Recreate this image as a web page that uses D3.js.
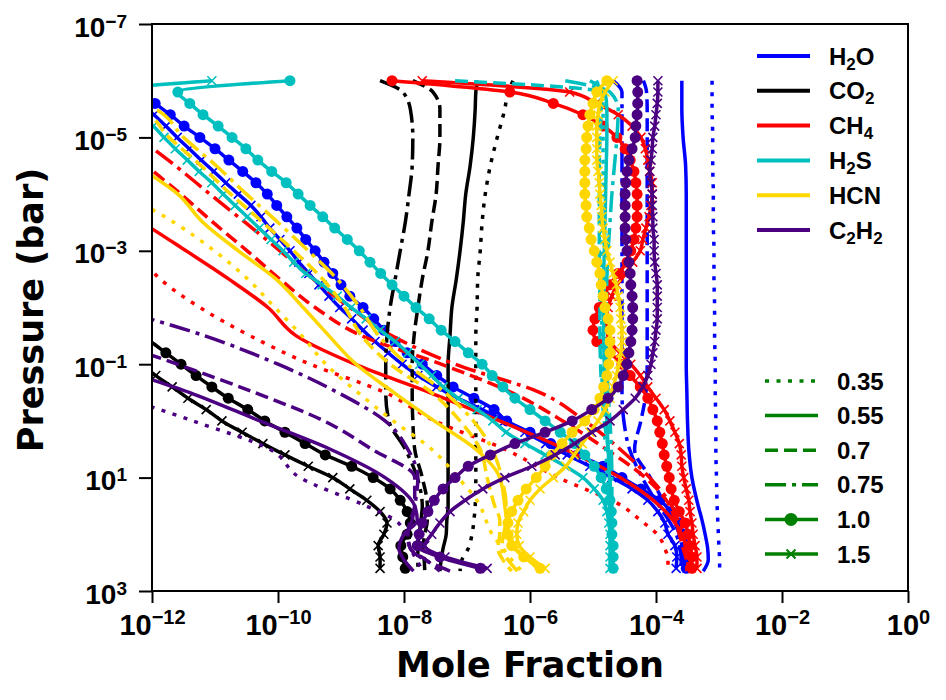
<!DOCTYPE html>
<html>
<head>
<meta charset="utf-8">
<script src="https://cdn.jsdelivr.net/npm/d3@7"></script>
<style>
  body { margin: 0; background: #fff; }
  svg { display: block; }
  text { font-family: "Liberation Sans", Arial, sans-serif; font-weight: bold; fill: #000; }
  .lab { font-family: "DejaVu Sans", sans-serif; font-size: 35px; }
</style>
</head>
<body>
<svg id="chart" width="946" height="700"></svg>
<script>
// log10 pressure (bar): coarse levels for the plain lines, model layers for the marked ones
const logP = [-6, -5.8, -5.5, -5, -4.5, -4, -3.5, -3, -2.5, -2, -1.5, -1, -0.5, 0, 0.5, 1, 1.5, 1.75, 2, 2.25, 2.45, 2.65];
const logPfine = [-6, -5.8, -5.6, -5.4, -5.2, -5, -4.8, -4.6, -4.4, -4.2, -4, -3.8, -3.6, -3.4, -3.2, -3, -2.8, -2.6, -2.4, -2.2,
  -2, -1.8, -1.6, -1.4, -1.2, -1, -0.8, -0.6, -0.4, -0.2, 0, 0.2, 0.4, 0.6, 0.8, 1, 1.2, 1.4, 1.6, 1.8, 2, 2.2, 2.4, 2.6];

const cases = ["0.35", "0.55", "0.7", "0.75", "1.0", "1.5"];
const species = ["H2O", "CO2", "CH4", "H2S", "HCN", "C2H2"];
const speciesColors = ["#0000ff", "#000000", "#ff0000", "#00bfbf", "#ffd700", "#4b0082"];
const speciesLabels = [
  [["H", 0], ["2", 1], ["O", 0]],
  [["CO", 0], ["2", 1]],
  [["CH", 0], ["4", 1]],
  [["H", 0], ["2", 1], ["S", 0]],
  [["HCN", 0]],
  [["C", 0], ["2", 1], ["H", 0], ["2", 1]]
];

// log10 mole fraction; rows = 0.35, 0.55, 0.7, 0.75 (on logP), 1.0, 1.5 (on logPfine)
const H2O = [
  [-3.11,-3.11,-3.11,-3.10,-3.10,-3.09,-3.09,-3.08,-3.08,-3.07,-3.07,-3.06,-3.06,-3.05,-3.05,-3.04,-3.03,-3.02,-3.01,-3.00,-2.99,-2.99],
  [-3.59,-3.59,-3.59,-3.57,-3.53,-3.52,-3.52,-3.52,-3.52,-3.52,-3.52,-3.52,-3.51,-3.50,-3.48,-3.43,-3.33,-3.27,-3.22,-3.18,-3.17,-3.25],
  [-4.20,-4.15,-4.14,-4.14,-4.14,-4.14,-4.14,-4.14,-4.14,-4.14,-4.14,-4.14,-4.16,-4.24,-4.34,-4.09,-3.84,-3.72,-3.63,-3.58,-3.55,-3.57],
  [-4.68,-4.54,-4.54,-4.54,-4.54,-4.54,-4.54,-4.54,-4.54,-4.54,-4.54,-4.54,-4.54,-4.51,-4.42,-4.22,-3.95,-3.80,-3.68,-3.62,-3.60,-3.60],
  [-12.40,-12.17,-11.95,-11.71,-11.49,-11.24,-11.00,-10.78,-10.56,-10.35,-10.17,-10.02,-9.86,-9.70,-9.56,-9.41,-9.27,-9.13,-9.00,-8.86,
   -8.65,-8.48,-8.32,-8.14,-7.95,-7.71,-7.48,-7.22,-6.89,-6.57,-6.37,-6.00,-5.67,-5.25,-4.84,-4.54,-4.24,-3.94,-3.76,-3.63,-3.56,-3.51,-3.51,-3.52],
  [-12.63,-12.40,-12.19,-11.97,-11.78,-11.60,-11.41,-11.22,-11.02,-10.83,-10.63,-10.43,-10.27,-10.13,-9.97,-9.81,-9.67,-9.51,-9.35,-9.19,
   -9.02,-8.83,-8.65,-8.46,-8.25,-8.03,-7.78,-7.48,-7.14,-6.76,-6.40,-6.08,-5.75,-5.41,-5.05,-4.70,-4.38,-4.13,-3.97,-3.86,-3.81,-3.70,-3.67,-3.68]
];
const CO2 = [
  [-6.27,-6.35,-6.40,-6.52,-6.63,-6.71,-6.76,-6.79,-6.83,-6.84,-6.86,-6.86,-6.86,-6.86,-6.86,-6.86,-6.87,-6.89,-6.92,-6.98,-7.08,-7.11],
  [-6.83,-6.86,-6.87,-6.90,-6.95,-7.02,-7.06,-7.11,-7.17,-7.24,-7.27,-7.30,-7.30,-7.30,-7.30,-7.30,-7.30,-7.32,-7.33,-7.38,-7.41,-7.43],
  [-7.86,-7.54,-7.43,-7.43,-7.46,-7.49,-7.56,-7.62,-7.71,-7.78,-7.84,-7.87,-7.87,-7.86,-7.83,-7.71,-7.63,-7.63,-7.67,-7.70,-7.68,-7.67],
  [-8.38,-8.02,-7.90,-7.86,-7.87,-7.92,-7.98,-8.06,-8.14,-8.22,-8.27,-8.29,-8.29,-8.24,-7.98,-7.79,-7.71,-7.73,-7.76,-7.78,-7.78,-7.78],
  [-15.5,-15.4,-15.3,-15.2,-15.1,-15.0,-14.9,-14.8,-14.7,-14.6,-14.5,-14.4,-14.3,-14.2,-14.1,-14.0,-13.8,-13.6,-13.3,-13.0,
   -12.77,-12.52,-12.27,-12.02,-11.78,-11.54,-11.30,-11.05,-10.79,-10.48,-10.21,-9.89,-9.57,-9.25,-8.83,-8.49,-8.22,-8.06,-7.95,-7.90,-7.95,-8.05,-8.02,-7.98],
  [-16.0,-15.9,-15.8,-15.7,-15.6,-15.5,-15.4,-15.3,-15.2,-15.1,-15.0,-14.9,-14.8,-14.7,-14.6,-14.5,-14.3,-14.1,-13.9,-13.7,
   -13.5,-13.3,-13.0,-12.7,-12.40,-12.17,-11.94,-11.68,-11.43,-11.14,-10.89,-10.57,-10.24,-9.89,-9.52,-9.13,-8.86,-8.59,-8.38,-8.27,-8.32,-8.41,-8.38,-8.38]
];
const CH4 = [
  [-16.0,-15.8,-15.5,-15.0,-14.5,-13.8,-13.0,-12.27,-11.87,-11.24,-10.44,-9.49,-8.30,-7.51,-6.40,-5.55,-4.54,-4.25,-3.98,-3.86,-3.81,-3.81],
  [-16.0,-15.6,-15.2,-14.6,-14.0,-12.95,-12.16,-11.46,-10.78,-10.16,-9.71,-8.78,-7.59,-6.48,-5.44,-4.57,-3.94,-3.73,-3.59,-3.51,-3.46,-3.43],
  [-13.5,-13.3,-13.0,-12.55,-12.08,-11.54,-11.03,-10.49,-9.97,-9.41,-8.67,-7.41,-6.29,-5.48,-4.79,-4.17,-3.78,-3.70,-3.63,-3.57,-3.52,-3.51],
  [-13.3,-13.1,-12.8,-12.22,-11.63,-11.08,-10.52,-9.97,-9.44,-8.86,-8.19,-7.19,-5.84,-5.13,-4.57,-4.10,-3.75,-3.65,-3.57,-3.53,-3.50,-3.49],
  [-8.19,-6.32,-5.63,-5.16,-4.84,-4.62,-4.49,-4.41,-4.35,-4.32,-4.30,-4.30,-4.30,-4.32,-4.35,-4.40,-4.46,-4.60,-4.73,-4.83,
   -4.90,-4.97,-5.00,-4.94,-4.73,-4.54,-4.41,-4.25,-4.13,-4.05,-3.98,-3.94,-3.90,-3.87,-3.83,-3.79,-3.76,-3.71,-3.63,-3.54,-3.49,-3.46,-3.43,-3.43],
  [-7.71,-5.37,-4.95,-4.60,-4.38,-4.24,-4.17,-4.13,-4.10,-4.06,-4.06,-4.08,-4.11,-4.16,-4.21,-4.25,-4.37,-4.48,-4.62,-4.70,
   -4.76,-4.79,-4.78,-4.73,-4.57,-4.40,-4.25,-4.13,-4.00,-3.87,-3.78,-3.70,-3.63,-3.60,-3.59,-3.56,-3.52,-3.48,-3.46,-3.43,-3.41,-3.38,-3.35,-3.35]
];
const H2S = [
  [-4.95,-4.86,-4.84,-4.84,-4.84,-4.84,-4.85,-4.86,-4.86,-4.86,-4.86,-4.86,-4.85,-4.83,-4.80,-4.77,-4.74,-4.73,-4.72,-4.72,-4.71,-4.71],
  [-5.05,-4.81,-4.78,-4.78,-4.79,-4.80,-4.81,-4.82,-4.83,-4.83,-4.83,-4.82,-4.80,-4.78,-4.76,-4.74,-4.72,-4.71,-4.71,-4.70,-4.70,-4.70],
  [-7.19,-4.89,-4.87,-4.89,-4.90,-4.90,-4.90,-4.90,-4.89,-4.89,-4.89,-4.88,-4.86,-4.82,-4.76,-4.73,-4.72,-4.71,-4.71,-4.71,-4.70,-4.70],
  [-5.44,-4.73,-4.60,-4.62,-4.66,-4.70,-4.73,-4.76,-4.78,-4.79,-4.79,-4.78,-4.76,-4.73,-4.71,-4.70,-4.70,-4.70,-4.69,-4.69,-4.69,-4.69],
  [-9.81,-11.59,-11.40,-11.19,-10.95,-10.73,-10.51,-10.32,-10.10,-9.87,-9.68,-9.49,-9.29,-9.10,-8.90,-8.71,-8.54,-8.37,-8.19,-8.00,
   -7.81,-7.60,-7.41,-7.19,-6.98,-6.76,-6.60,-6.43,-6.24,-6.00,-5.76,-5.52,-5.29,-5.13,-4.98,-4.87,-4.79,-4.73,-4.71,-4.70,-4.70,-4.68,-4.68,-4.68],
  [-11.05,-12.76,-12.51,-12.19,-11.98,-11.81,-11.63,-11.44,-11.25,-11.05,-10.87,-10.68,-10.49,-10.30,-10.11,-9.92,-9.75,-9.56,-9.30,-9.06,
   -8.84,-8.60,-8.38,-8.14,-7.94,-7.75,-7.56,-7.38,-7.14,-6.84,-6.59,-6.38,-6.08,-5.76,-5.44,-5.16,-4.98,-4.84,-4.78,-4.75,-4.73,-4.73,-4.73,-4.73]
];
const HCN = [
  [-15.0,-14.6,-14.2,-13.7,-13.2,-12.43,-11.65,-11.01,-10.48,-10.05,-9.62,-9.24,-8.73,-8.17,-7.56,-7.14,-6.79,-6.70,-6.60,-6.43,-6.29,-6.13],
  [-14.6,-14.2,-13.7,-12.94,-12.24,-11.59,-11.19,-10.63,-10.03,-9.60,-9.19,-8.76,-8.16,-7.52,-6.86,-6.48,-6.40,-6.37,-6.32,-6.22,-6.03,-5.84],
  [-13.3,-12.9,-12.19,-11.73,-11.22,-10.75,-10.24,-9.75,-9.29,-8.94,-8.67,-8.22,-7.56,-7.11,-6.79,-6.68,-6.56,-6.48,-6.48,-6.51,-6.43,-6.29],
  [-13.0,-12.6,-11.95,-11.50,-10.98,-10.50,-10.00,-9.52,-9.06,-8.70,-8.40,-7.95,-7.35,-6.90,-6.60,-6.45,-6.38,-6.38,-6.42,-6.45,-6.35,-6.20],
  [-4.78,-4.94,-5.00,-5.05,-5.08,-5.10,-5.11,-5.13,-5.13,-5.13,-5.13,-5.11,-5.10,-5.06,-5.03,-4.98,-4.94,-4.89,-4.87,-4.84,
   -4.81,-4.76,-4.73,-4.73,-4.73,-4.75,-4.78,-4.83,-4.89,-4.98,-5.13,-5.33,-5.49,-5.65,-5.76,-5.90,-6.06,-6.19,-6.29,-6.35,-6.35,-6.29,-6.10,-5.84],
  [-4.68,-4.81,-4.89,-4.92,-4.94,-4.94,-4.94,-4.94,-4.92,-4.90,-4.89,-4.87,-4.86,-4.84,-4.81,-4.78,-4.73,-4.68,-4.63,-4.60,
   -4.57,-4.56,-4.54,-4.54,-4.56,-4.59,-4.63,-4.68,-4.73,-4.81,-4.92,-5.05,-5.17,-5.30,-5.43,-5.63,-5.84,-6.00,-6.10,-6.19,-6.21,-6.17,-6.00,-5.76]
];
const C2H2 = [
  [-18.0,-17.6,-17.2,-16.8,-16.4,-16.0,-15.6,-15.2,-14.8,-14.4,-14.0,-13.4,-12.62,-11.35,-10.13,-9.65,-8.60,-8.14,-7.98,-7.90,-7.80,-7.70],
  [-18.0,-17.6,-17.2,-16.8,-16.4,-16.0,-15.6,-15.2,-14.8,-14.4,-13.6,-12.70,-11.40,-10.29,-9.17,-8.30,-7.83,-7.79,-8.00,-8.08,-8.00,-7.85],
  [-18.0,-17.6,-17.2,-16.8,-16.4,-16.0,-15.6,-15.2,-14.8,-14.0,-12.87,-11.60,-10.37,-9.27,-8.51,-7.83,-7.83,-7.90,-7.94,-7.90,-7.65,-7.43],
  [-18.0,-17.6,-17.2,-16.8,-16.4,-16.0,-15.6,-15.2,-14.4,-12.67,-11.16,-10.00,-9.05,-8.30,-7.94,-7.78,-7.83,-7.87,-7.94,-7.90,-7.67,-7.27],
  [-4.30,-4.29,-4.29,-4.30,-4.32,-4.33,-4.38,-4.43,-4.46,-4.48,-4.49,-4.49,-4.49,-4.49,-4.48,-4.46,-4.43,-4.41,-4.40,-4.38,
   -4.37,-4.37,-4.38,-4.40,-4.43,-4.46,-4.52,-4.60,-4.76,-5.02,-5.33,-5.76,-6.24,-6.63,-6.98,-7.19,-7.38,-7.52,-7.62,-7.71,-7.76,-7.79,-7.43,-6.79],
  [-3.97,-3.97,-3.98,-4.00,-4.02,-4.05,-4.06,-4.08,-4.10,-4.08,-4.06,-4.06,-4.05,-4.05,-4.03,-4.03,-4.02,-4.00,-3.98,-3.98,
   -3.98,-3.98,-4.00,-4.02,-4.05,-4.08,-4.13,-4.21,-4.33,-4.52,-4.73,-5.02,-5.29,-5.60,-5.97,-6.40,-6.75,-7.03,-7.27,-7.43,-7.56,-7.67,-7.35,-6.68]
];

// tick exponents
const xTicks = [-12, -10, -8, -6, -4, -2, 0];
const yTicks = [-7, -5, -3, -1, 1, 3];

const allSpecies = [H2O, CO2, CH4, H2S, HCN, C2H2];
const caseDash = ["4,7.5", null, "13,6", "21,6,4,6", null, null];
const caseMarker = [null, null, null, null, "o", "x"];

const svg = d3.select("#chart");
const m = { l: 152, r: 908, t: 24, b: 591 };
const x = d3.scaleLog().domain([1e-12, 1]).range([m.l, m.r]);
const y = d3.scaleLog().domain([1e-7, 1e3]).range([m.t, m.b]);

svg.append("defs").append("clipPath").attr("id", "clip")
  .append("rect").attr("x", m.l).attr("y", m.t)
  .attr("width", m.r - m.l).attr("height", m.b - m.t);

const plot = svg.append("g").attr("clip-path", "url(#clip)");
const line = d3.line()
  .x(d => x(d.x))
  .y(d => y(d.p))
  .curve(d3.curveMonotoneY);

const xMark = "M-4.5,-4.5L4.5,4.5M-4.5,4.5L4.5,-4.5";

allSpecies.forEach((rows, si) => {
  const col = speciesColors[si];
  rows.forEach((vals, ci) => {
    const grid = vals.length === logPfine.length ? logPfine : logP;
    const pts = vals.map((v, i) => ({ x: Math.pow(10, v), p: Math.pow(10, grid[i]) }));
    const g = plot.append("g").attr("class", species[si] + " c" + ci);
    g.append("path")
      .attr("d", line(pts))
      .attr("fill", "none")
      .attr("stroke", col)
      .attr("stroke-width", 3.5)
      .attr("stroke-dasharray", caseDash[ci]);
    const vis = pts.filter(d => d.x >= 1e-12);
    if (caseMarker[ci] === "o") {
      g.selectAll("circle").data(vis).join("circle")
        .attr("cx", d => x(d.x)).attr("cy", d => y(d.p))
        .attr("r", 5.5).attr("fill", col);
    } else if (caseMarker[ci] === "x") {
      g.selectAll("path.mk").data(vis).join("path")
        .attr("class", "mk")
        .attr("transform", d => `translate(${x(d.x)},${y(d.p)})`)
        .attr("d", xMark)
        .attr("stroke", col).attr("stroke-width", 1.6).attr("fill", "none");
    }
  });
});

// frame
svg.append("rect")
  .attr("x", m.l).attr("y", m.t)
  .attr("width", m.r - m.l).attr("height", m.b - m.t)
  .attr("fill", "none").attr("stroke", "#000").attr("stroke-width", 2);

function powLabel(sel, e, big, small, dy) {
  sel.append("tspan").attr("font-size", big).text("10");
  sel.append("tspan").attr("font-size", small).attr("dy", dy)
    .text(e < 0 ? "\u2212" + (-e) : String(e));
}

// x axis
const gx = svg.append("g").attr("transform", `translate(0,${m.b})`)
  .call(d3.axisBottom(x).tickValues(xTicks.map(e => Math.pow(10, e))).tickSize(12).tickFormat(""));
gx.select(".domain").remove();
gx.selectAll(".tick line").attr("stroke", "#000").attr("stroke-width", 2);
gx.selectAll(".tick text").remove();
gx.selectAll(".tick").each(function (d) {
  const t = d3.select(this).append("text").attr("x", 0).attr("y", 44).attr("text-anchor", "middle");
  powLabel(t, Math.round(Math.log10(d)), 29, 20, -11);
});

// y axis
const gy = svg.append("g").attr("transform", `translate(${m.l},0)`)
  .call(d3.axisLeft(y).tickValues(yTicks.map(e => Math.pow(10, e))).tickSize(13).tickFormat(""));
gy.select(".domain").remove();
gy.selectAll(".tick line").attr("stroke", "#000").attr("stroke-width", 2);
gy.selectAll(".tick text").remove();
gy.selectAll(".tick").each(function (d) {
  const t = d3.select(this).append("text").attr("x", -25).attr("y", 12).attr("text-anchor", "end");
  powLabel(t, Math.round(Math.log10(d)), 28, 19, -9);
});

// axis titles
svg.append("text").attr("class", "lab")
  .attr("x", (m.l + m.r) / 2).attr("y", 677).attr("text-anchor", "middle")
  .text("Mole Fraction");
svg.append("text").attr("class", "lab")
  .attr("transform", "translate(43,310) rotate(-90)").attr("text-anchor", "middle")
  .text("Pressure (bar)");

// species legend
const leg1 = svg.append("g");
species.forEach((s, i) => {
  const yy = 56 + i * 34.8;
  leg1.append("line").attr("x1", 757).attr("x2", 810).attr("y1", yy).attr("y2", yy)
    .attr("stroke", speciesColors[i]).attr("stroke-width", 4);
  const t = leg1.append("text").attr("x", 829).attr("y", yy + 8.5).attr("font-size", 24);
  speciesLabels[i].forEach(([txt, sub], k, arr) => {
    const ts = t.append("tspan").text(txt);
    if (sub) ts.attr("font-size", 17).attr("dy", 5);
    else if (k > 0 && arr[k - 1][1]) ts.attr("dy", -5);
  });
});

// case legend
const leg2 = svg.append("g");
cases.forEach((c, i) => {
  const yy = 381 + i * 34.6;
  leg2.append("line").attr("x1", 765).attr("x2", 818).attr("y1", yy).attr("y2", yy)
    .attr("stroke", "#008000").attr("stroke-width", 3.5)
    .attr("stroke-dasharray", caseDash[i]);
  if (caseMarker[i] === "o") {
    leg2.append("circle").attr("cx", 791).attr("cy", yy).attr("r", 6.5).attr("fill", "#008000");
  } else if (caseMarker[i] === "x") {
    leg2.append("path").attr("transform", `translate(791,${yy})`).attr("d", xMark)
      .attr("stroke", "#008000").attr("stroke-width", 2).attr("fill", "none");
  }
  leg2.append("text").attr("x", 837).attr("y", yy + 8.5).attr("font-size", 24).text(c);
});
</script>
</body>
</html>
